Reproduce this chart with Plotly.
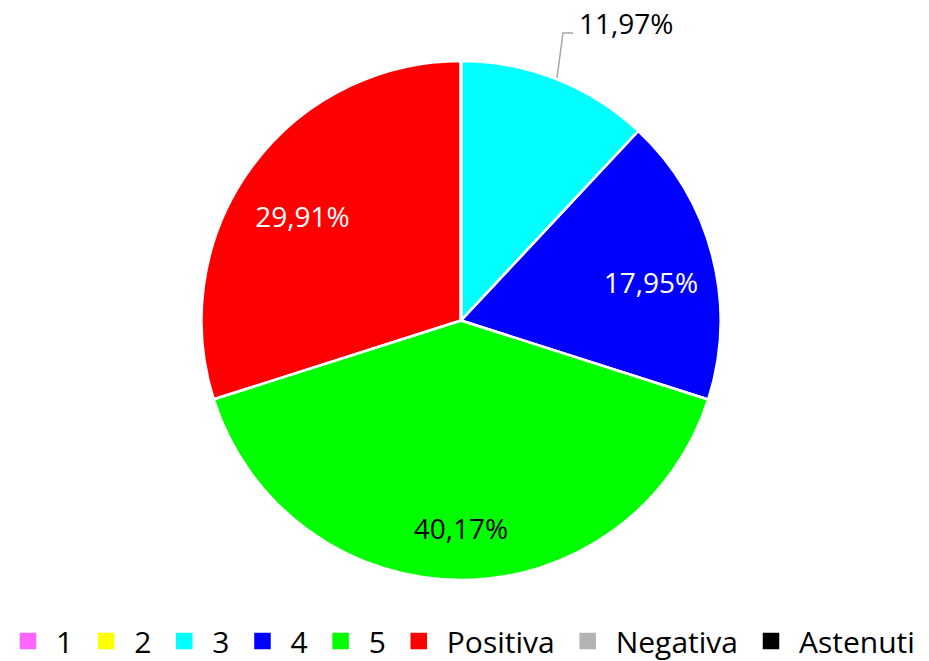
import plotly.graph_objects as go

labels = ["1", "2", "3", "4", "5", "Positiva", "Negativa", "Astenuti"]
values = [0, 0, 11.97, 17.95, 40.17, 29.91, 0, 0]
colors = ["#FF66FF", "#FFFF00", "#00FFFF", "#0000FF", "#00FF00", "#FF0000", "#B3B3B3", "#000000"]
text_colors = ["black", "black", "black", "white", "black", "white", "black", "black"]
label_text = ["", "", "", "17,95%", "40,17%", "29,91%", "", ""]
outside_label = "11,97%"

W, H = 929, 661
ml, mr, mt, mb = 0, 7, 61, 81
pw, ph = W - ml - mr, H - mt - mb


def px(x):
    return (x - ml) / pw


def py(y):
    return (H - mb - y) / ph


common = dict(labels=labels, values=values, sort=False, direction="clockwise", rotation=0)

fig = go.Figure()
# hidden pie underneath, only used for the (larger) legend squares
fig.add_trace(go.Pie(
    **common, domain=dict(x=[0.4, 0.6], y=[0.4, 0.6]),
    marker=dict(colors=colors, line=dict(color=colors, width=4.5)),
    textinfo="none", hoverinfo="skip", showlegend=True,
))
# coloured slices
fig.add_trace(go.Pie(
    **common, showlegend=False,
    marker=dict(colors=colors, line=dict(width=0)),
    textinfo="none", hoverinfo="label+value",
))
# white slice borders
fig.add_trace(go.Pie(
    **common, showlegend=False,
    marker=dict(colors=["rgba(0,0,0,0)"] * len(labels), line=dict(color="white", width=2.5)),
    textinfo="none", hoverinfo="skip",
))
# data labels placed in an outer ring (slightly lower, as in the reference)
fig.add_trace(go.Pie(
    **common, hole=0.58, showlegend=False,
    domain=dict(x=[0, 1], y=[0, 0.9576]),
    marker=dict(colors=["rgba(0,0,0,0)"] * len(labels), line=dict(width=0)),
    text=label_text, textinfo="text", textposition="inside",
    insidetextorientation="horizontal",
    textfont=dict(size=28, color=text_colors, family="Open Sans"),
    hoverinfo="skip",
))

fig.add_shape(type="path", xref="paper", yref="paper",
              path=f"M {px(557)} {py(78)} L {px(563)} {py(33)} L {px(573)} {py(33)}",
              line=dict(color="#A6A6A6", width=1.5))
fig.add_annotation(text=outside_label, xref="paper", yref="paper",
                   x=px(577), y=py(23), xanchor="left", yanchor="middle",
                   showarrow=False, font=dict(size=28, color="black", family="Open Sans"))

fig.update_layout(
    width=W, height=H, separators=",.",
    margin=dict(l=ml, r=mr, t=mt, b=mb, autoexpand=False),
    paper_bgcolor="white", plot_bgcolor="white",
    font=dict(family="Open Sans", size=28, color="black"),
    legend=dict(orientation="h", x=px(460), xanchor="center", y=py(641), yanchor="middle",
                font=dict(size=30), traceorder="normal", itemwidth=46),
)
fig.write_html("out.html", config={"displayModeBar": False},
               post_script="document.body.style.margin='0';")
